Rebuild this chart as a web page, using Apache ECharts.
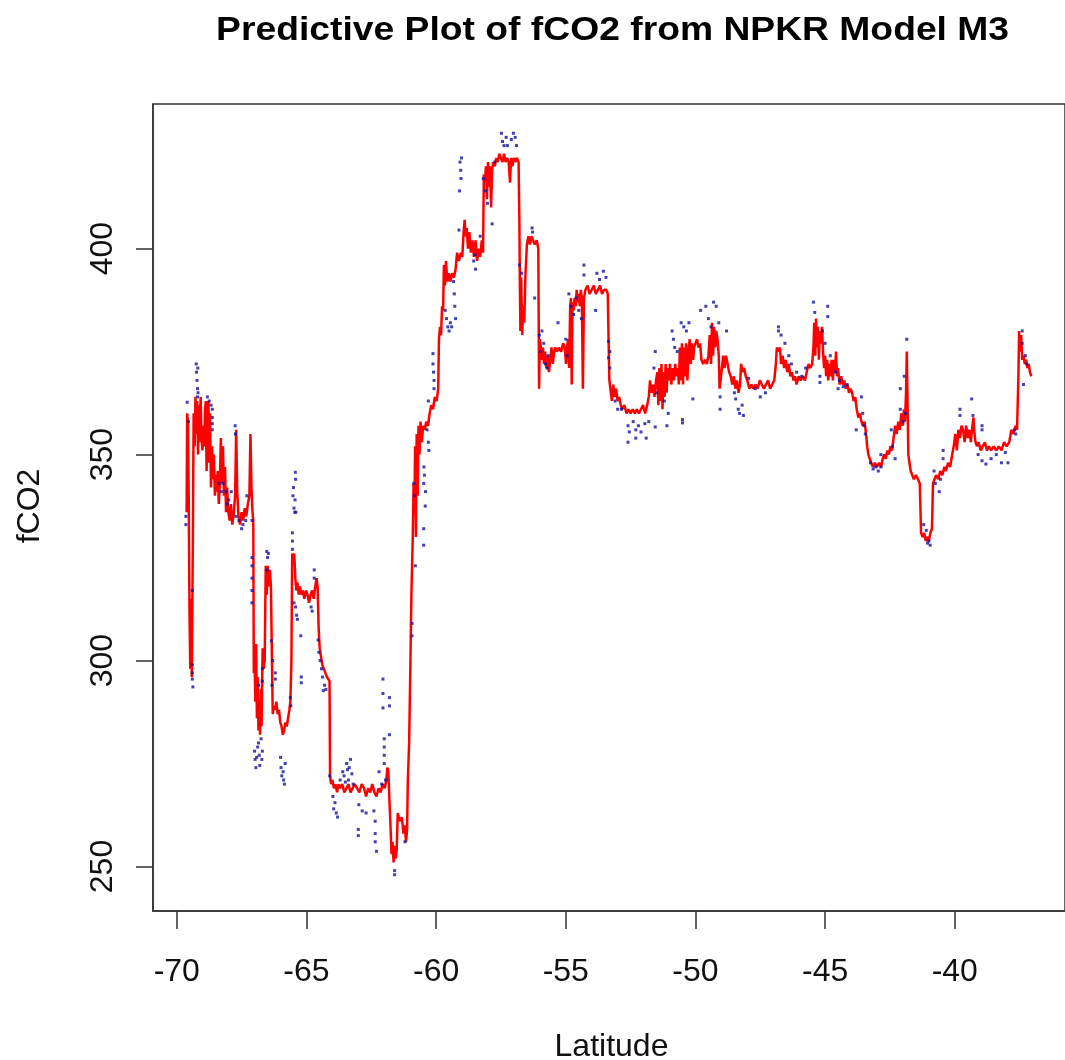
<!DOCTYPE html>
<html>
<head>
<meta charset="utf-8">
<title>Predictive Plot of fCO2 from NPKR Model M3</title>
<script src="https://cdn.jsdelivr.net/npm/echarts@6/dist/echarts.min.js"></script>
<style>
  html, body { margin: 0; padding: 0; background: #ffffff; }
  #chart { width: 1065px; height: 1060px; }
</style>
</head>
<body>
<div id="chart"></div>
<script>
// NPKR model M3 prediction of fCO2 along the latitude transect: [latitude, fCO2]
const predicted = [
  [-69.62,336],[-69.60,360],[-69.57,358],[-69.54,340],[-69.51,312],[-69.48,298],[-69.45,315],[-69.42,296],
  [-69.38,330],[-69.35,360],[-69.31,352],[-69.28,364],[-69.25,355],[-69.21,363],[-69.18,350],[-69.15,362],
  [-69.12,353],[-69.08,364],[-69.05,355],[-69.01,351],[-68.98,357],[-68.94,352],[-68.91,361],[-68.88,363],
  [-68.85,346],[-68.82,358],[-68.78,363],[-68.75,348],[-68.72,360],[-68.68,342],[-68.64,352],[-68.61,344],
  [-68.57,350],[-68.53,340],[-68.50,345],[-68.46,341],[-68.42,346],[-68.38,338],[-68.34,343],[-68.30,354],
  [-68.26,343],[-68.22,352],[-68.18,340],[-68.14,347],[-68.10,336],[-68.06,342],[-68.01,336],[-67.96,334],
  [-67.91,338],[-67.86,333],[-67.80,336],[-67.75,340],[-67.71,356],[-67.67,341],[-67.62,335],[-67.56,333],
  [-67.50,336],[-67.44,334],[-67.38,337],[-67.32,335],[-67.26,338],[-67.20,340],[-67.16,355],[-67.12,342],
  [-67.08,336],[-67.05,334],[-67.03,297],[-67.00,300],[-66.97,290],[-66.94,304],[-66.91,286],[-66.88,296],
  [-66.85,283],[-66.82,290],[-66.79,282],[-66.76,293],[-66.73,284],[-66.69,303],[-66.65,298],[-66.61,300],
  [-66.57,323],[-66.53,316],[-66.49,323],[-66.45,318],[-66.41,322],[-66.37,318],[-66.33,300],[-66.30,287],
  [-66.26,289],[-66.21,288],[-66.16,290],[-66.11,287],[-66.06,288],[-66.01,285],[-65.96,284],[-65.91,282],
  [-65.86,283],[-65.81,285],[-65.76,284],[-65.71,286],[-65.66,288],[-65.62,290],[-65.58,300],[-65.55,326],
  [-65.51,324],[-65.47,326],[-65.43,320],[-65.39,317],[-65.35,319],[-65.30,316],[-65.25,318],[-65.20,316],
  [-65.14,317],[-65.08,315],[-65.02,317],[-64.96,316],[-64.90,314],[-64.84,316],[-64.78,317],[-64.72,315],
  [-64.66,318],[-64.61,320],[-64.57,318],[-64.53,308],[-64.49,303],[-64.44,301],[-64.39,299],[-64.33,298],
  [-64.27,297],[-64.21,296],[-64.15,296],[-64.11,295],[-64.09,272],[-64.05,270],[-64.00,271],[-63.94,269],
  [-63.88,270],[-63.82,268],[-63.76,270],[-63.70,269],[-63.62,270],[-63.54,268],[-63.46,269],[-63.38,270],
  [-63.30,268],[-63.22,269],[-63.14,270],[-63.05,269],[-62.96,268],[-62.87,270],[-62.78,269],[-62.70,267],
  [-62.62,269],[-62.54,268],[-62.46,270],[-62.38,268],[-62.30,267],[-62.22,269],[-62.14,268],[-62.06,270],
  [-61.98,269],[-61.92,271],[-61.88,274],[-61.84,273],[-61.80,266],[-61.76,260],[-61.72,253],[-61.68,256],
  [-61.64,251],[-61.60,255],[-61.56,252],[-61.52,254],[-61.48,263],[-61.44,262],[-61.38,261],[-61.32,262],
  [-61.26,258],[-61.21,260],[-61.16,256],[-61.12,259],[-61.09,271],[-61.04,280],[-61.00,296],[-60.95,317],
  [-60.90,330],[-60.87,343],[-60.84,336],[-60.81,352],[-60.78,330],[-60.75,355],[-60.71,340],[-60.68,357],
  [-60.64,350],[-60.60,358],[-60.55,353],[-60.50,357],[-60.44,356],[-60.38,358],[-60.31,357],[-60.25,360],
  [-60.19,362],[-60.12,361],[-60.05,364],[-59.98,363],[-59.92,366],[-59.89,378],[-59.85,381],[-59.81,379],
  [-59.77,386],[-59.73,385],[-59.70,396],[-59.66,391],[-59.62,397],[-59.57,392],[-59.51,394],[-59.45,392],
  [-59.38,394],[-59.31,393],[-59.25,395],[-59.19,399],[-59.12,397],[-59.05,399],[-58.99,398],[-58.94,404],
  [-58.90,407],[-58.86,403],[-58.82,405],[-58.77,400],[-58.72,404],[-58.66,399],[-58.60,402],[-58.54,398],
  [-58.48,402],[-58.42,397],[-58.36,400],[-58.30,398],[-58.24,402],[-58.19,399],[-58.16,418],[-58.12,416],
  [-58.08,420],[-58.04,412],[-58.00,421],[-57.96,415],[-57.92,420],[-57.88,410],[-57.84,419],[-57.80,421],
  [-57.74,420],[-57.68,422],[-57.62,421],[-57.56,423],[-57.50,422],[-57.44,421],[-57.38,423],[-57.32,421],
  [-57.26,422],[-57.20,421],[-57.15,416],[-57.11,422],[-57.06,420],[-57.00,422],[-56.94,421],[-56.88,422],
  [-56.82,421],[-56.79,407],[-56.77,391],[-56.75,380],[-56.72,393],[-56.68,379],[-56.64,386],[-56.60,382],
  [-56.56,393],[-56.50,401],[-56.44,403],[-56.38,401],[-56.32,403],[-56.26,402],[-56.20,401],[-56.12,402],
  [-56.06,400],[-56.03,366],[-56.00,378],[-55.96,376],[-55.92,373],[-55.88,376],[-55.84,372],[-55.80,375],
  [-55.75,371],[-55.70,374],[-55.65,370],[-55.60,373],[-55.55,376],[-55.50,372],[-55.45,375],[-55.40,376],
  [-55.34,375],[-55.26,376],[-55.18,375],[-55.10,377],[-55.04,376],[-54.99,372],[-54.95,376],[-54.91,378],
  [-54.87,371],[-54.83,386],[-54.80,388],[-54.77,367],[-54.74,387],[-54.70,385],[-54.66,388],[-54.62,386],
  [-54.58,390],[-54.54,387],[-54.50,389],[-54.46,386],[-54.42,390],[-54.38,388],[-54.34,366],[-54.30,388],
  [-54.24,390],[-54.16,391],[-54.08,389],[-54.00,390],[-53.92,391],[-53.84,389],[-53.76,390],[-53.68,391],
  [-53.60,389],[-53.52,390],[-53.44,390],[-53.38,389],[-53.35,378],[-53.32,368],[-53.28,366],[-53.22,363],
  [-53.17,367],[-53.12,364],[-53.06,366],[-53.00,363],[-52.94,364],[-52.88,362],[-52.82,361],[-52.74,362],
  [-52.66,360],[-52.58,361],[-52.50,360],[-52.42,361],[-52.34,360],[-52.26,361],[-52.18,360],[-52.10,361],
  [-52.02,362],[-51.94,360],[-51.86,362],[-51.80,364],[-51.75,368],[-51.70,365],[-51.64,367],[-51.58,364],
  [-51.52,368],[-51.47,370],[-51.43,362],[-51.39,371],[-51.35,363],[-51.31,372],[-51.27,361],[-51.23,370],
  [-51.19,364],[-51.15,372],[-51.11,365],[-51.07,371],[-51.03,368],[-50.98,372],[-50.93,367],[-50.88,371],
  [-50.83,368],[-50.78,372],[-50.73,369],[-50.68,371],[-50.64,367],[-50.60,376],[-50.56,368],[-50.52,377],
  [-50.48,367],[-50.44,376],[-50.40,369],[-50.36,377],[-50.31,368],[-50.27,375],[-50.22,378],[-50.18,372],
  [-50.14,377],[-50.09,373],[-50.05,376],[-50.00,377],[-49.94,378],[-49.88,376],[-49.82,377],[-49.77,373],
  [-49.70,372],[-49.63,373],[-49.56,372],[-49.50,374],[-49.45,379],[-49.40,372],[-49.36,382],[-49.32,374],
  [-49.28,381],[-49.24,376],[-49.20,380],[-49.15,378],[-49.10,374],[-49.07,366],[-49.03,368],[-48.98,371],
  [-48.93,374],[-48.88,371],[-48.82,374],[-48.76,372],[-48.70,370],[-48.64,369],[-48.58,367],[-48.52,369],
  [-48.46,366],[-48.40,368],[-48.34,365],[-48.28,367],[-48.24,372],[-48.18,370],[-48.12,371],[-48.06,369],
  [-48.00,368],[-47.92,366],[-47.84,367],[-47.76,366],[-47.68,367],[-47.60,366],[-47.52,368],[-47.44,367],
  [-47.36,366],[-47.28,367],[-47.20,368],[-47.12,366],[-47.04,367],[-46.96,368],[-46.90,372],[-46.86,376],
  [-46.80,375],[-46.74,376],[-46.70,372],[-46.64,374],[-46.58,371],[-46.52,373],[-46.46,370],[-46.40,372],
  [-46.34,369],[-46.28,370],[-46.22,368],[-46.16,369],[-46.10,367],[-46.02,369],[-45.94,368],[-45.86,369],
  [-45.78,368],[-45.71,370],[-45.64,372],[-45.57,371],[-45.50,372],[-45.45,376],[-45.42,382],[-45.38,374],
  [-45.35,383],[-45.31,376],[-45.28,381],[-45.24,373],[-45.20,380],[-45.16,377],[-45.12,381],[-45.08,375],
  [-45.04,371],[-45.00,374],[-44.96,369],[-44.92,373],[-44.88,368],[-44.84,372],[-44.80,369],[-44.75,373],
  [-44.70,368],[-44.66,373],[-44.62,370],[-44.58,375],[-44.54,369],[-44.50,371],[-44.44,367],[-44.38,369],
  [-44.32,367],[-44.26,368],[-44.20,366],[-44.14,367],[-44.08,365],[-44.02,366],[-43.96,365],[-43.90,363],
  [-43.84,364],[-43.78,361],[-43.72,359],[-43.66,360],[-43.60,358],[-43.54,357],[-43.48,358],[-43.42,355],
  [-43.38,352],[-43.33,350],[-43.28,349],[-43.22,348],[-43.16,347],[-43.08,348],[-43.00,347],[-42.92,348],
  [-42.84,347],[-42.78,349],[-42.72,350],[-42.66,349],[-42.60,351],[-42.54,350],[-42.48,352],[-42.42,351],
  [-42.36,354],[-42.30,357],[-42.24,355],[-42.18,358],[-42.12,356],[-42.06,360],[-42.00,357],[-41.96,361],
  [-41.92,358],[-41.88,365],[-41.85,375],[-41.82,362],[-41.79,350],[-41.75,348],[-41.70,346],[-41.64,345],
  [-41.58,344],[-41.50,345],[-41.42,344],[-41.35,343],[-41.30,331],[-41.24,330],[-41.18,331],[-41.12,329],
  [-41.06,330],[-41.00,329],[-40.94,331],[-40.88,332],[-40.84,343],[-40.78,344],[-40.72,345],[-40.64,344],
  [-40.56,346],[-40.48,345],[-40.40,347],[-40.34,346],[-40.26,348],[-40.18,347],[-40.10,350],[-40.04,352],
  [-39.98,355],[-39.92,351],[-39.86,356],[-39.80,354],[-39.74,357],[-39.68,356],[-39.62,353],[-39.56,357],
  [-39.50,354],[-39.44,356],[-39.38,353],[-39.32,357],[-39.28,359],[-39.24,355],[-39.20,353],[-39.14,352],
  [-39.08,353],[-39.00,351],[-38.92,352],[-38.84,353],[-38.76,351],[-38.68,352],[-38.60,351],[-38.50,352],
  [-38.40,351],[-38.30,352],[-38.20,351],[-38.10,353],[-38.00,352],[-37.90,353],[-37.82,356],[-37.74,355],
  [-37.66,357],[-37.60,356],[-37.55,368],[-37.52,380],[-37.48,375],[-37.44,379],[-37.40,373],[-37.35,374],
  [-37.30,372],[-37.25,373],[-37.20,371],[-37.15,372],[-37.10,370],[-37.05,369]
];

// Observed fCO2 samples: [latitude, fCO2]
const observed = [
  [-69.65,335],[-69.65,333],[-69.60,362.7],[-69.55,358],[-69.40,317],[-69.40,299],[-69.40,297],[-69.40,295.5],
  [-69.38,293.6],[-69.25,372],[-69.24,370],[-69.22,368],[-69.20,366],[-69.19,371],[-69.20,364],[-69.18,365],
  [-68.82,364],[-68.75,363],[-68.68,362],[-68.63,361],[-68.63,359],[-68.63,357.5],[-68.63,356],
  [-68.37,343],[-68.28,341],[-68.22,343],[-68.10,341],[-68.05,338],[-68.00,339],[-67.90,341],
  [-67.75,357],[-67.74,355],[-67.72,335],[-67.60,334],[-67.50,332],[-67.45,333],[-67.34,334],[-67.30,340],[-67.10,334],
  [-67.10,325],[-67.10,323],[-67.10,320],[-67.10,317],[-67.10,314],
  [-67.00,278],[-66.98,276],[-66.95,274],[-66.92,276.5],[-66.88,279],[-66.85,280],[-66.82,277],[-66.80,274.5],
  [-66.75,281],[-66.72,276],[-66.70,278],[-66.84,294],[-66.70,298],[-66.70,295],
  [-66.53,326.5],[-66.50,325],[-66.47,326],[-66.52,322],[-66.35,304.8],[-66.30,300],[-66.20,297],[-66.20,295.5],[-66.33,294],
  [-66.00,276.5],[-65.98,274],[-65.95,272],[-65.90,273],[-65.88,271],[-65.85,270],[-65.82,275],[-65.62,291],[-65.60,289],
  [-65.52,340],[-65.48,337],[-65.45,336],[-65.43,345.7],[-65.42,344],[-65.44,339],[-65.41,336],[-65.50,342],
  [-65.54,331],[-65.54,329],[-65.54,327],[-65.48,314],[-65.42,313],[-65.38,311],[-65.35,310],
  [-65.22,306],[-65.20,296],[-65.20,294.6],[-64.70,322],[-64.70,320],[-64.82,313],[-64.78,312],
  [-64.55,305],[-64.52,302],[-64.47,300],[-64.42,298],[-64.38,296],[-64.30,294],[-64.25,293],[-64.35,292.7],[-64.10,272],
  [-63.98,267],[-63.95,264],[-63.90,265.5],[-63.85,263],[-63.80,262],[-63.70,271],[-63.60,273],[-63.55,272],
  [-63.50,270.5],[-63.45,275],[-63.42,273.5],[-63.38,271],[-63.35,274],[-63.30,276],[-63.25,272.5],[-63.20,270],
  [-62.98,265],[-62.85,263.5],[-62.70,263],[-63.00,259],[-63.00,257.5],[-62.40,263.5],[-62.35,261],[-62.35,258],
  [-62.35,256],[-62.30,253.7],[-62.20,273],[-62.10,270],[-62.00,275],[-61.95,271],
  [-62.05,295.5],[-62.05,292],[-62.05,288.5],[-61.80,291],[-61.80,289],[-62.00,281],[-62.00,279],[-62.00,277],
  [-61.80,282],[-61.60,249],[-61.60,248],[-61.20,256],[-60.93,309],[-60.93,306],[-60.80,323],[-60.83,340],
  [-60.86,343],[-60.48,343],[-60.42,337.5],[-60.48,332],[-60.48,328],[-60.47,347],[-60.45,345],[-60.41,341],
  [-60.35,356],[-60.30,353],[-60.28,351],[-60.30,363],
  [-60.12,374.5],[-60.12,372],[-60.10,370],[-60.08,368],[-60.08,366],
  [-59.65,385],[-59.60,383],[-59.55,381],[-59.50,380],[-59.45,382],[-59.40,381],
  [-59.33,392],[-59.30,389],[-59.28,386],[-59.25,383],[-59.12,404.5],
  [-59.08,421],[-59.05,419],[-59.10,414],[-59.04,417],[-59.02,422],
  [-58.55,397],[-58.50,398.5],[-58.48,395],[-58.30,403],[-58.18,417],[-58.10,414],[-58.02,411],
  [-57.84,406],[-57.74,421],
  [-57.48,428],[-57.44,426],[-57.38,425],[-57.30,427],[-57.25,425],[-57.10,426.5],[-57.02,428],[-56.95,427],[-56.90,425],
  [-56.78,396],[-56.70,394],[-56.30,405],[-56.28,404],[-56.20,388],
  [-56.02,379],[-55.98,375],[-55.92,380],[-55.85,377],[-55.78,372],[-55.72,371],[-55.68,374],[-55.30,382],
  [-55.00,378],[-54.95,374],[-54.88,389],[-54.80,386],[-54.70,384],[-54.60,388],[-54.50,385],[-54.40,383],
  [-54.30,396],[-54.30,393.6],
  [-53.85,385],[-53.80,394],[-53.70,392.5],[-53.55,394.5],[-53.45,393],[-53.35,377.5],[-53.35,373.5],
  [-53.30,375],[-53.30,371],[-53.10,363],[-53.00,361],[-52.85,361],
  [-52.60,357],[-52.60,353],[-52.55,355.5],[-52.40,358],[-52.30,356],[-52.30,354],[-52.20,357],[-52.10,355.5],
  [-51.95,357.5],[-51.90,354],[-51.80,358],
  [-51.60,371],[-51.55,375],[-51.50,365],[-51.55,356.7],[-51.20,363],[-51.10,357],[-51.05,360],
  [-50.90,380],[-50.85,378],[-50.80,376],[-50.70,375],
  [-50.55,382],[-50.45,381],[-50.35,380],[-50.25,382],[-50.50,358.5],[-50.50,357.7],[-50.10,363.5],
  [-49.80,385],[-49.60,386],[-49.50,383],[-49.40,381],[-49.30,387],[-49.20,386],[-49.10,382],
  [-49.05,364],[-49.05,361],[-48.80,380],
  [-48.50,365],[-48.45,363.5],[-48.35,361],[-48.30,360],[-48.20,362],[-48.15,359.5],[-47.95,368.5],
  [-47.70,366],[-47.50,364],[-47.30,365],
  [-46.80,381],[-46.80,380],[-46.70,379],[-46.55,377],[-46.40,374],[-46.30,372],[-46.10,370],[-45.90,369],[-45.75,371],
  [-45.45,387],[-45.40,384.5],[-44.90,386],[-44.90,383.5],[-45.10,380],[-45.00,377],[-44.80,374],
  [-45.20,369],[-45.20,367.5],[-44.60,370],[-44.45,368],[-44.30,366.5],[-44.15,367],[-44.50,366],
  [-43.60,364],[-43.55,360],[-43.50,357],[-43.45,355],[-43.80,356],
  [-43.25,348],[-43.15,346.5],[-43.05,347],[-42.95,346],[-42.85,347],[-42.85,350],
  [-42.45,356],[-42.40,352],[-42.30,349],[-42.10,361],[-42.00,358],[-41.90,360],[-42.10,366],[-41.95,369],[-41.85,378],
  [-41.20,333],[-41.10,331.6],[-41.00,329],[-40.95,328],[-41.05,328.5],
  [-40.80,346],[-40.75,343],[-40.60,341],[-40.55,344],[-40.45,351],[-40.45,349],
  [-39.80,361],[-39.80,359.5],[-39.35,363.5],[-39.30,359.5],[-38.95,357],[-38.95,356],
  [-39.10,350],[-38.95,348.5],[-38.80,347.7],[-38.60,349],[-38.40,350],[-38.20,348],[-38.05,350.5],[-37.95,348],
  [-37.70,356],[-37.65,355],[-37.40,380],[-37.40,377],[-37.35,367],[-37.28,374],[-37.22,372]
];

// Axis tick positions and plotting ranges
const latTicks = [-70, -65, -60, -55, -50, -45, -40];
const co2Ticks = [250, 300, 350, 400];
const latRange = [-70.917, -35.75];
const co2Range = [239.2, 435.1];

const FONT = '"Liberation Sans", Arial, Helvetica, sans-serif';
const INK = '#111111';

const chart = echarts.init(document.getElementById('chart'), null, { renderer: 'canvas' });

chart.setOption({
  animation: false,
  backgroundColor: '#ffffff',
  grid: {
    left: 153,
    top: 104,
    width: 921,
    height: 807,
    show: true,
    borderColor: '#333333',
    borderWidth: 1.5,
    backgroundColor: 'transparent'
  },
  xAxis: {
    type: 'value',
    min: latRange[0],
    max: latRange[1],
    axisLine: { show: true, onZero: false, lineStyle: { color: '#333333', width: 1.5 } },
    axisTick: { show: true, customValues: latTicks, length: 18, lineStyle: { color: '#333333', width: 1.5 } },
    axisLabel: {
      customValues: latTicks,
      margin: 45,
      color: INK,
      fontFamily: FONT,
      fontSize: 32,
      formatter: v => String(v)
    },
    splitLine: { show: false }
  },
  yAxis: {
    type: 'value',
    min: co2Range[0],
    max: co2Range[1],
    axisLine: { show: true, onZero: false, lineStyle: { color: '#333333', width: 1.5 } },
    axisTick: { show: true, customValues: co2Ticks, length: 17, lineStyle: { color: '#333333', width: 1.5 } },
    axisLabel: {
      customValues: co2Ticks,
      rotate: 90,
      margin: 34,
      color: INK,
      fontFamily: FONT,
      fontSize: 32,
      formatter: v => String(v)
    },
    splitLine: { show: false }
  },
  graphic: [
    {
      type: 'text',
      x: 612.6,
      y: 30.2,
      scaleX: 1.096,
      style: {
        text: 'Predictive Plot of fCO2 from NPKR Model M3',
        font: 'bold 34px ' + FONT,
        fill: '#000000',
        textAlign: 'center', textVerticalAlign: 'middle',
        align: 'center', verticalAlign: 'middle'
      }
    },
    {
      type: 'text',
      x: 611.5,
      y: 1047,
      style: {
        text: 'Latitude',
        font: '32px ' + FONT,
        fill: INK,
        textAlign: 'center', textVerticalAlign: 'middle',
        align: 'center', verticalAlign: 'middle'
      }
    },
    {
      type: 'text',
      x: 30,
      y: 506,
      rotation: Math.PI / 2,
      style: {
        text: 'fCO2',
        font: '32px ' + FONT,
        fill: INK,
        textAlign: 'center', textVerticalAlign: 'middle',
        align: 'center', verticalAlign: 'middle'
      }
    }
  ],
  series: [
    {
      name: 'Predicted',
      type: 'line',
      data: predicted,
      showSymbol: false,
      symbol: 'none',
      lineStyle: { color: '#ff0000', width: 2.5 },
      z: 2
    },
    {
      name: 'Observed',
      type: 'scatter',
      data: observed,
      symbol: 'rect',
      symbolSize: 3,
      itemStyle: { color: '#14149c' },
      z: 3
    }
  ]
});
</script>
</body>
</html>
